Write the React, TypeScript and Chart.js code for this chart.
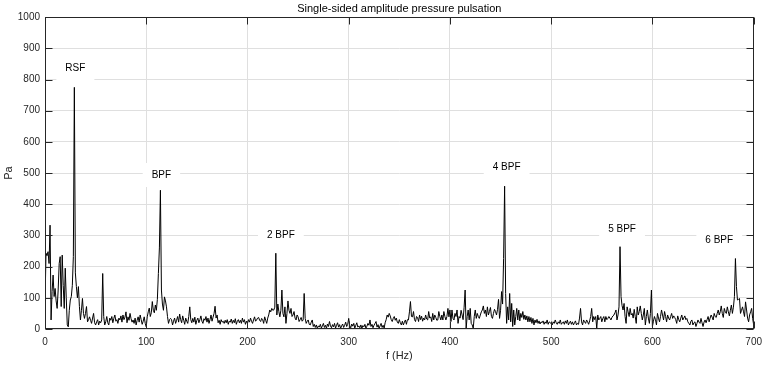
import { useEffect, useRef } from "react";
import { Chart, registerables } from "chart.js";

Chart.register(...registerables);

const FONT = '"Liberation Sans", Arial, Helvetica, sans-serif';

const chartTitle = "Single-sided amplitude pressure pulsation";
const xAxisTitle = "f (Hz)";
const yAxisTitle = "Pa";

// frequency grid (Hz): one bin per Hz starting at 0
const freqStartHz = 0;
const freqStepHz = 1;

// single-sided amplitude (Pa), one value per frequency bin 0..700 Hz
const amplitudePa: number[] = [
  80, 243, 235, 248, 210, 333, 29, 120, 173, 104,
  130, 90, 66, 125, 210, 232, 72, 237, 140, 66,
  195, 100, 13, 7, 60, 93, 104, 140, 232, 775,
  180, 136, 100, 136, 72, 29, 60, 98, 50, 34,
  50, 72, 23, 30, 39, 28, 18, 35, 50, 20,
  13, 23, 30, 13, 25, 20, 29, 178, 40, 13,
  23, 40, 20, 13, 35, 28, 40, 20, 34, 45,
  25, 30, 18, 35, 29, 42, 22, 45, 30, 38,
  55, 20, 39, 28, 50, 33, 22, 29, 18, 35,
  13, 28, 39, 22, 45, 30, 15, 25, 39, 18,
  7, 39, 55, 67, 40, 52, 88, 60, 52, 77,
  60, 95, 178, 260, 445, 125, 80, 60, 103, 90,
  71, 40, 18, 30, 34, 30, 13, 25, 35, 18,
  28, 40, 22, 48, 30, 20, 42, 28, 15, 35,
  25, 18, 40, 71, 30, 20, 34, 22, 38, 15,
  28, 35, 20, 30, 42, 25, 18, 33, 28, 40,
  22, 35, 18, 30, 45, 25, 38, 50, 73, 35,
  45, 20, 28, 15, 30, 22, 25, 18, 28, 20,
  30, 15, 25, 22, 32, 18, 28, 20, 33, 15,
  25, 30, 20, 28, 18, 35, 22, 30, 15, 25,
  18, 30, 22, 35, 25, 18, 29, 39, 25, 29,
  35, 37, 28, 24, 34, 30, 18, 39, 28, 18,
  35, 45, 61, 55, 66, 60, 61, 70, 243, 45,
  80, 56, 39, 60, 125, 50, 39, 71, 18, 50,
  90, 60, 50, 66, 40, 45, 56, 35, 29, 45,
  39, 24, 30, 37, 25, 29, 114, 34, 18, 25,
  29, 15, 13, 22, 29, 8, 15, 5, 13, 2,
  10, 6, 15, 3, 10, 18, 5, 12, 2, 16,
  8, 24, 10, 4, 14, 7, 18, 3, 12, 20,
  6, 14, 2, 10, 16, 5, 12, 22, 8, 15,
  34, 10, 4, 16, 9, 18, 3, 12, 20, 6,
  10, 4, 13, 2, 11, 7, 15, 3, 9, 18,
  12, 29, 8, 15, 4, 12, 18, 24, 6, 14,
  2, 10, 18, 5, 12, 3, 20, 30, 45, 38,
  50, 42, 30, 24, 34, 40, 28, 35, 22, 18,
  30, 20, 13, 25, 13, 22, 29, 15, 30, 29,
  55, 88, 40, 39, 56, 30, 24, 40, 37, 24,
  45, 30, 41, 25, 35, 29, 45, 32, 29, 56,
  35, 39, 24, 50, 29, 45, 37, 28, 29, 56,
  40, 29, 45, 29, 56, 40, 29, 40, 66, 39,
  61, 24, 61, 34, 29, 50, 40, 61, 18, 40,
  35, 60, 45, 30, 70, 125, 2, 40, 61, 29,
  66, 18, 13, 2, 40, 61, 34, 50, 40, 34,
  45, 55, 61, 74, 50, 61, 40, 71, 45, 56,
  69, 40, 34, 50, 63, 56, 45, 63, 95, 34,
  60, 120, 80, 226, 458, 114, 18, 71, 29, 114,
  23, 82, 8, 61, 13, 40, 66, 29, 61, 26,
  50, 37, 56, 31, 45, 29, 42, 23, 40, 23,
  37, 18, 34, 13, 29, 20, 31, 18, 26, 16,
  23, 20, 26, 15, 23, 18, 29, 15, 23, 20,
  18, 13, 23, 18, 29, 20, 15, 23, 18, 29,
  15, 20, 23, 15, 26, 18, 29, 13, 20, 25,
  15, 23, 13, 20, 26, 13, 18, 15, 35, 66,
  23, 13, 29, 23, 18, 29, 23, 15, 26, 40,
  66, 23, 40, 30, 40, 2, 45, 29, 34, 40,
  23, 34, 40, 23, 40, 30, 34, 40, 35, 29,
  37, 42, 45, 52, 61, 29, 45, 71, 264, 104,
  75, 61, 82, 40, 18, 71, 55, 40, 66, 45,
  50, 35, 63, 40, 18, 71, 45, 56, 74, 50,
  29, 45, 66, 13, 40, 61, 35, 18, 50, 125,
  8, 25, 40, 30, 13, 50, 35, 23, 40, 61,
  45, 29, 56, 40, 23, 45, 35, 29, 40, 50,
  34, 42, 37, 30, 18, 42, 30, 23, 35, 45,
  29, 35, 42, 30, 34, 23, 18, 13, 25, 29,
  13, 20, 23, 8, 18, 29, 22, 18, 34, 20,
  8, 22, 29, 20, 30, 40, 23, 35, 45, 38,
  29, 50, 40, 37, 50, 61, 45, 55, 74, 50,
  37, 66, 55, 50, 71, 55, 42, 60, 77, 50,
  70, 104, 226, 136, 93, 95, 98, 50, 60, 71,
  55, 40, 87, 61, 35, 23, 45, 55, 66, 34,
  13,
];

// axis ranges / ticks
const xMin = 0;
const xMax = 700;
const xStep = 100;
const yMin = 0;
const yMax = 1000;
const yStep = 100;

// peak annotations (text, anchor frequency in Hz, anchor amplitude in Pa)
const peakLabelText = ["RSF", "BPF", "2 BPF", "4 BPF", "5 BPF", "6 BPF"];
const peakLabelHz = [30, 115, 233, 456, 570, 666];
const peakLabelPa = [837, 494, 301, 519, 320, 285];

const frequenciesHz = amplitudePa.map((_, i) => freqStartHz + i * freqStepHz);

const AXIS_COLOR = "#262626";
const GRID_COLOR = "#dfdfdf";

const framePlugin = {
  id: "matlabFrame",
  afterDatasetsDraw(chart: any) {
    const { ctx, chartArea: a, scales } = chart;
    const xs = scales.x;
    const ys = scales.y;
    ctx.save();

    // text annotations with white background
    ctx.font = `10px ${FONT}`;
    ctx.textAlign = "center";
    ctx.textBaseline = "middle";
    peakLabelText.forEach((t, i) => {
      const px = xs.getPixelForValue(peakLabelHz[i]);
      const py = ys.getPixelForValue(peakLabelPa[i]);
      const w = ctx.measureText(t).width;
      ctx.fillStyle = "#ffffff";
      ctx.fillRect(px - w / 2 - 9, py - 12, w + 18, 24);
      ctx.fillStyle = "#000000";
      ctx.fillText(t, px, py);
    });

    // box
    const L = Math.round(a.left) + 0.5;
    const R = Math.round(a.right) - 0.5;
    const T = Math.round(a.top) + 0.5;
    const B = Math.round(a.bottom) - 0.5;
    ctx.strokeStyle = AXIS_COLOR;
    ctx.lineWidth = 1;
    ctx.strokeRect(L, T, R - L, B - T);

    // inward ticks
    const tl = 7;
    ctx.beginPath();
    for (let v = xMin; v <= xMax; v += xStep) {
      const px = Math.round(xs.getPixelForValue(v)) + 0.5;
      ctx.moveTo(px, B);
      ctx.lineTo(px, B - tl);
      ctx.moveTo(px, T);
      ctx.lineTo(px, T + tl);
    }
    for (let v = yMin; v <= yMax; v += yStep) {
      const py = Math.round(ys.getPixelForValue(v)) + 0.5;
      ctx.moveTo(L, py);
      ctx.lineTo(L + tl, py);
      ctx.moveTo(R, py);
      ctx.lineTo(R - tl, py);
    }
    ctx.stroke();
    ctx.restore();
  },
};

export default function App() {
  const canvasRef = useRef<HTMLCanvasElement | null>(null);

  useEffect(() => {
    const canvas = canvasRef.current;
    if (!canvas) return;
    const chart = new Chart(canvas, {
      type: "line",
      data: {
        datasets: [
          {
            label: "amplitude",
            data: frequenciesHz.map((f, i) => ({ x: f, y: amplitudePa[i] })),
            borderColor: "#000000",
            borderWidth: 1,
            pointRadius: 0,
            tension: 0,
            fill: false,
          },
        ],
      },
      options: {
        responsive: false,
        animation: false,
        devicePixelRatio: 1,
        layout: { padding: { left: 0, right: 12, top: 0, bottom: 0 } },
        plugins: {
          legend: { display: false },
          tooltip: { enabled: false },
          title: {
            display: true,
            fullSize: false,
            text: chartTitle,
            color: "#000000",
            font: { family: FONT, size: 11, weight: "normal" },
            padding: { top: 2, bottom: 2 },
          },
        },
        scales: {
          x: {
            type: "linear",
            min: xMin,
            max: xMax,
            afterFit: (s: any) => {
              s.height = 37;
            },
            ticks: {
              stepSize: xStep,
              color: AXIS_COLOR,
              font: { family: FONT, size: 10 },
              padding: 7,
              maxRotation: 0,
              callback: (v: any) => String(v),
            },
            grid: { color: GRID_COLOR, drawTicks: false, lineWidth: 1 },
            border: { display: false },
            title: {
              display: true,
              text: xAxisTitle,
              color: AXIS_COLOR,
              font: { family: FONT, size: 11 },
              padding: { top: 0, bottom: 3 },
            },
          },
          y: {
            type: "linear",
            min: yMin,
            max: yMax,
            afterFit: (s: any) => {
              s.width = 45;
            },
            ticks: {
              stepSize: yStep,
              color: AXIS_COLOR,
              font: { family: FONT, size: 10 },
              padding: 5,
              callback: (v: any) => String(v),
            },
            grid: { color: GRID_COLOR, drawTicks: false, lineWidth: 1 },
            border: { display: false },
            title: {
              display: true,
              text: yAxisTitle,
              color: AXIS_COLOR,
              font: { family: FONT, size: 11 },
              padding: { top: 2, bottom: 0 },
            },
          },
        },
      },
      plugins: [framePlugin],
    });
    return () => chart.destroy();
  }, []);

  return (
    <div
      style={{
        position: "absolute",
        left: 0,
        top: 0,
        width: 769,
        height: 366,
        background: "#ffffff",
      }}
    >
      <canvas ref={canvasRef} width={769} height={366} style={{ display: "block" }} />
    </div>
  );
}
